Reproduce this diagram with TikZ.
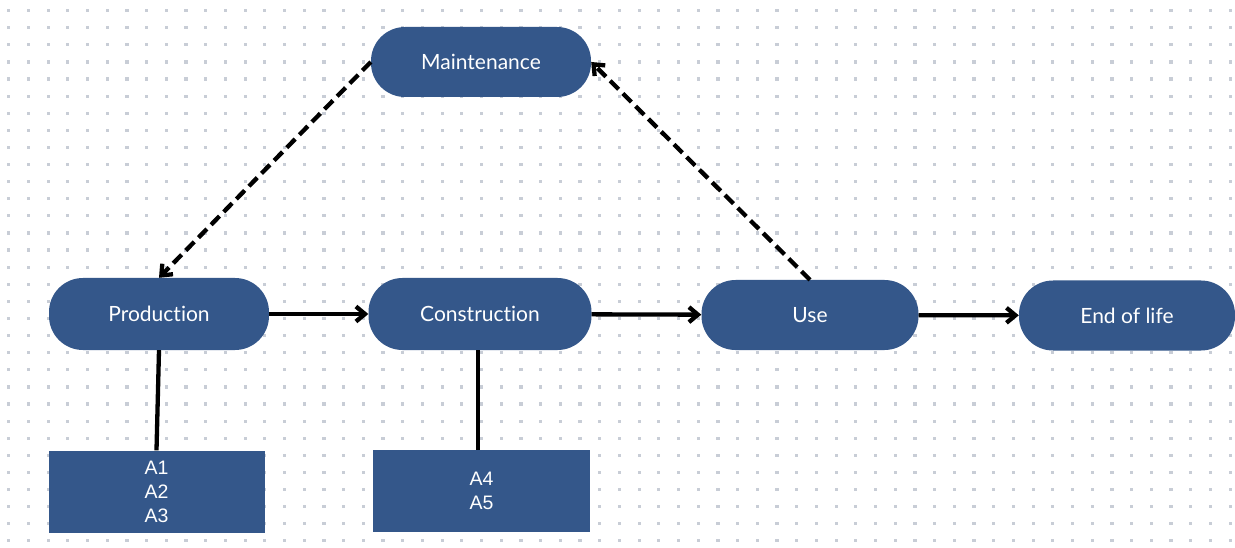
\documentclass[tikz,border=0pt]{standalone}
\usepackage{fontspec}
\setmainfont{Lato}[Ligatures=NoCommon]
\newfontfamily\boxfont{Liberation Sans}
\usetikzlibrary{arrows.meta,positioning}
\definecolor{stageblue}{RGB}{52,87,138}
\definecolor{griddot}{RGB}{200,205,214}

\begin{document}
\begin{tikzpicture}[
	x=1pt, y=-1pt,
	every node/.style={font=\fontsize{21}{24}\selectfont},
	stage/.style={draw=none, fill=stageblue, text=white, rounded corners=34pt, align=center, minimum width=220pt, minimum height=70pt},
	module/.style={draw=none, fill=stageblue, text=white, align=center, minimum width=216pt, minimum height=82pt, font=\boxfont\fontsize{19.5}{24}\selectfont},
	arrow/.style={-{Straight Barb[length=9pt,width=15pt,line width=4.3pt]}, line width=4.3pt},
	dasharrow/.style={arrow, dashed, dash pattern=on 12pt off 6pt},
	link/.style={line width=4.3pt}
	]
	
	\useasboundingbox (0,0) rectangle (1235,548);
	\fill[white] (0,0) rectangle (1235,548);
	
	% dotted grid
	\foreach \i in {0,...,62} {
		\foreach \j in {0,...,31} {
			\fill[griddot] ({8.7+19.7*\i-1.6},{10.7+17.1*\j-1.6}) rectangle ++(3.2,3.2);
		}
	}
	
	\node[stage] (maint) at (481,62) {Maintenance};
	\node[stage, minimum height=72pt] (prod) at (159,314) {Production};
	\node[stage, minimum width=223pt, minimum height=72pt] (constr) at (480,314) {Construction};
	\node[stage, minimum width=217pt] (use) at (810,315) {Use};
	\node[stage, minimum width=216pt] (eol) at (1127,315.5) {End of life};
	
	\node[module] (modA) at (156.5,491.5) {A1\\A2\\A3};
	\node[module, minimum width=217pt] (modB) at (481.5,491) {A4\\A5};
	
	\draw[arrow] (prod) -- (constr);
	\draw[arrow] (constr) -- (use);
	\draw[arrow] (use) -- (eol);
	
	\draw[link] (prod.south) -- (modA.north);
	\draw[link] (constr.south -| 478,0) -- (modB.north -| 478,0);
	
	\draw[dasharrow] (maint.west) -- (prod.north);
	\draw[dasharrow] (use.north) -- (maint.east);
	
\end{tikzpicture}
\end{document}
